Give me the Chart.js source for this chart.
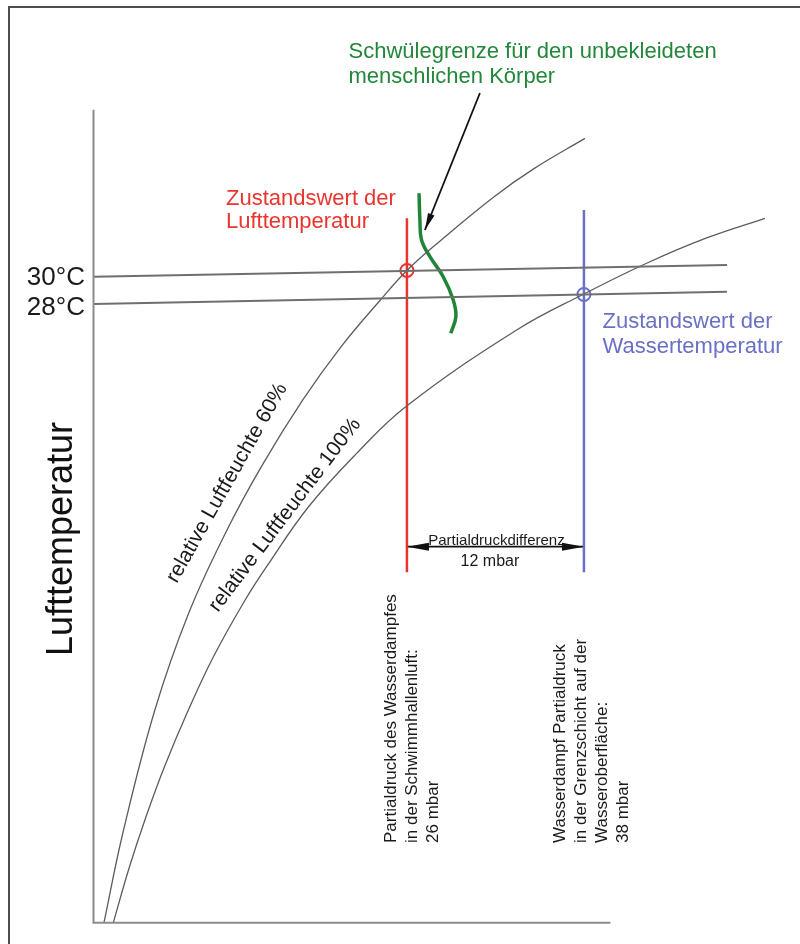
<!DOCTYPE html>
<html>
<head>
<meta charset="utf-8">
<script src="https://cdn.jsdelivr.net/npm/chart.js@4.4.1/dist/chart.umd.min.js"></script>
<style>
    html, body { margin: 0; padding: 0; background: #fff; overflow: hidden; }
    #wrap { position: relative; width: 800px; height: 944px; }
    #chart { position: absolute; left: 0; top: 0; }
    #frame { position: absolute; left: 8px; top: 6px; width: 900px; height: 1000px; border: 2px solid #4d4d4d; pointer-events: none; }
</style>
</head>
<body>
<div id="wrap">
    <canvas id="chart" width="800" height="944"></canvas>
    <div id="frame"></div>
</div>
<script>
// Schema: x = Partialdruck (mbar), y = Lufttemperatur (°C)
const rh60X = [5.46, 6.74, 8.91, 11.20, 13.69, 16.13, 18.94, 21.54, 24.20, 26.0, 28.19, 31.91, 34.64, 38.07];
const rh60Y = [-24.35, -16.88, -6.63, 1.43, 8.10, 13.65, 19.21, 23.65, 27.54, 30.0, 32.40, 36.15, 38.51, 41.01];

const rh100X = [6.09, 7.19, 8.31, 9.56, 11.18, 12.88, 15.03, 16.48, 19.33, 22.59, 25.98, 33.44, 38.0, 42.25, 46.32, 50.27];
const rh100Y = [-24.35, -19.69, -15.52, -11.35, -6.63, -2.19, 2.54, 5.31, 10.31, 14.76, 18.71, 25.04, 28.04, 30.60, 32.71, 34.35];

// Schwülegrenze
const schwuleX = [26.82, 26.88, 26.99, 27.56, 28.46, 29.14, 29.32, 28.97];
const schwuleY = [36.43, 34.21, 32.54, 31.15, 29.48, 27.54, 26.15, 24.76];

// Achsen
const axisX = [4.75, 4.75, 39.8];
const axisY = [43.4, -24.35, -24.35];

// Temperaturlinien 30 °C und 28 °C
const temp30X = [4.75, 47.7];
const temp30Y = [29.47, 30.46];
const temp28X = [4.75, 47.7];
const temp28Y = [27.21, 28.23];

// Zustandswerte
const luftPunkt = { x: 26.0, y: 30.0 };
const wasserPunkt = { x: 38.0, y: 28.0 };
const luftLinieY = [34.35, 4.85];
const wasserLinieY = [35.04, 4.85];

// Partialdruckdifferenz 26 -> 38 mbar
const diffX = [26.0, 38.0];
const diffY = [6.98, 6.98];

// Hinweispfeil Schwülegrenze
const pfeilX = [30.95, 27.22];
const pfeilY = [44.79, 33.37];

const tempLabels = ['30°C', '28°C'];
const tempLabelY = [28.79, 26.29];

function zip(xs, ys) {
    return xs.map((x, i) => ({ x: x, y: ys[i] }));
}

const FONT = "'Liberation Sans', Arial, sans-serif";

// Beschriftungen (Position in Datenkoordinaten)
const texte = [
    { lines: ['Schwülegrenze für den unbekleideten', 'menschlichen Körper'], x: 22.04, y: 47.68, color: '#22873a', size: 22, lh: 24.5 },
    { lines: ['Zustandswert der', 'Lufttemperatur'], x: 13.73, y: 35.46, color: '#e8352e', size: 22, lh: 23.5 },
    { lines: ['Zustandswert der', 'Wassertemperatur'], x: 39.26, y: 25.18, color: '#6a70c4', size: 22, lh: 24.5 },
    { lines: [tempLabels[0]], x: 4.17, y: tempLabelY[0], color: '#1a1a1a', size: 26, align: 'right' },
    { lines: [tempLabels[1]], x: 4.17, y: tempLabelY[1], color: '#1a1a1a', size: 26, align: 'right' },
    { lines: ['Lufttemperatur'], x: 2.61, y: 7.62, color: '#111', size: 36, align: 'center', base: 'middle', rot: -90 },
    { lines: ['relative Luftfeuchte 60%'], x: 13.80, y: 12.29, color: '#1a1a1a', size: 21, align: 'center', base: 'middle', rot: -60.6 },
    { lines: ['relative Luftfeuchte 100%'], x: 17.73, y: 9.62, color: '#1a1a1a', size: 21, align: 'center', base: 'middle', rot: -52.8 },
    { lines: ['Partialdruckdifferenz'], x: 32.07, y: 7.12, color: '#1a1a1a', size: 15, align: 'center' },
    { lines: ['12 mbar'], x: 31.63, y: 5.37, color: '#1a1a1a', size: 16, align: 'center' },
    { lines: ['Partialdruck des Wasserdampfes', 'in der Schwimmhallenluft:', '26 mbar'], x: 24.95, y: -17.71, color: '#1a1a1a', size: 17, base: 'middle', rot: -90, lh: 21 },
    { lines: ['Wasserdampf Partialdruck', 'in der Grenzschicht auf der', 'Wasseroberfläche:', '38 mbar'], x: 36.38, y: -17.71, color: '#1a1a1a', size: 17, base: 'middle', rot: -90, lh: 21 }
];

// Pfeilspitzen an Linienenden
const arrowPlugin = {
    id: 'arrows',
    afterDatasetsDraw(chart) {
        const ctx = chart.ctx;
        chart.data.datasets.forEach((ds, i) => {
            if (!ds.arrow) return;
            const pts = chart.getDatasetMeta(i).data;
            const heads = [];
            if (ds.arrow.end) heads.push([pts[pts.length - 2], pts[pts.length - 1]]);
            if (ds.arrow.start) heads.push([pts[1], pts[0]]);
            heads.forEach(([a, b]) => {
                const ang = Math.atan2(b.y - a.y, b.x - a.x);
                const len = ds.arrow.len, w = ds.arrow.w;
                ctx.save();
                ctx.translate(b.x, b.y);
                ctx.rotate(ang);
                ctx.fillStyle = ds.borderColor;
                ctx.beginPath();
                ctx.moveTo(0, 0);
                ctx.lineTo(-len, -w);
                ctx.lineTo(-len, w);
                ctx.closePath();
                ctx.fill();
                ctx.restore();
            });
        });
    }
};

// Textbeschriftungen
const textPlugin = {
    id: 'texte',
    afterDraw(chart) {
        const ctx = chart.ctx;
        const sx = chart.scales.x, sy = chart.scales.y;
        texte.forEach(t => {
            ctx.save();
            ctx.translate(sx.getPixelForValue(t.x), sy.getPixelForValue(t.y));
            if (t.rot) ctx.rotate(t.rot * Math.PI / 180);
            ctx.font = t.size + 'px ' + FONT;
            ctx.fillStyle = t.color;
            ctx.textAlign = t.align || 'left';
            ctx.textBaseline = t.base || 'alphabetic';
            t.lines.forEach((line, k) => {
                ctx.fillText(line, 0, k * (t.lh || 0));
            });
            ctx.restore();
        });
    }
};

function lineDs(data, color, width, extra) {
    return Object.assign({
        data: data,
        borderColor: color,
        backgroundColor: color,
        borderWidth: width,
        pointRadius: 0,
        tension: 0,
        fill: false
    }, extra || {});
}

new Chart(document.getElementById('chart'), {
    type: 'line',
    data: {
        datasets: [
            lineDs(zip(axisX, axisY), '#8c8c8c', 2),
            lineDs(zip(temp30X, temp30Y), '#6f6f6f', 2),
            lineDs(zip(temp28X, temp28Y), '#6f6f6f', 2),
            lineDs(zip(rh60X, rh60Y), '#5c5c5c', 1.3, { tension: 0.4 }),
            lineDs(zip(rh100X, rh100Y), '#5c5c5c', 1.3, { tension: 0.4 }),
            lineDs(zip([luftPunkt.x, luftPunkt.x], luftLinieY), '#e8352e', 2.5),
            lineDs(zip([wasserPunkt.x, wasserPunkt.x], wasserLinieY), '#6a70c4', 2.5),
            lineDs([luftPunkt], '#e8352e', 2, { showLine: false, pointRadius: 6.5, backgroundColor: 'rgba(0,0,0,0)' }),
            lineDs([wasserPunkt], '#6a70c4', 2, { showLine: false, pointRadius: 6.5, backgroundColor: 'rgba(0,0,0,0)' }),
            lineDs(zip(schwuleX, schwuleY), '#1f8638', 3.5, { tension: 0.4 }),
            lineDs(zip(pfeilX, pfeilY), '#111111', 1.8, { arrow: { end: true, len: 17, w: 3.5 } }),
            lineDs(zip(diffX, diffY), '#111111', 1.8, { arrow: { start: true, end: true, len: 22, w: 4 } })
        ]
    },
    options: {
        responsive: false,
        animation: false,
        layout: { padding: 0, autoPadding: false },
        plugins: { legend: { display: false }, tooltip: { enabled: false } },
        scales: {
            x: { type: 'linear', min: -1.59, max: 52.65, display: false },
            y: { type: 'linear', min: -26.13, max: 52.54, display: false }
        }
    },
    plugins: [arrowPlugin, textPlugin]
});
</script>
</body>
</html>
